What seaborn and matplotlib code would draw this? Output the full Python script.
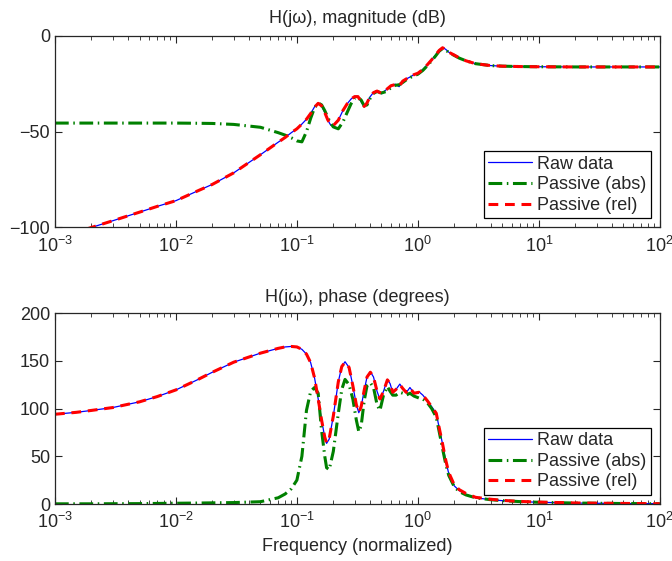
import seaborn as sns
import matplotlib.pyplot as plt

sns.set_style("ticks")
plt.rcParams['font.family'] = ['Liberation Sans', 'DejaVu Sans']
plt.rcParams['mathtext.fontset'] = 'custom'
plt.rcParams['mathtext.rm'] = 'Liberation Sans'
plt.rcParams['mathtext.it'] = 'Liberation Sans:italic'
plt.rcParams['xtick.direction'] = 'in'
plt.rcParams['ytick.direction'] = 'in'

# magnitude (dB)
freq_mag = [0.001, 0.0015, 0.002, 0.003, 0.005, 0.007, 0.01, 0.015, 0.02, 0.03,
            0.05, 0.07, 0.08, 0.09, 0.1, 0.11, 0.12, 0.13, 0.14, 0.15,
            0.16, 0.17, 0.18, 0.19, 0.2, 0.22, 0.24, 0.26, 0.28, 0.3,
            0.32, 0.34, 0.36, 0.38, 0.4, 0.43, 0.46, 0.5, 0.55, 0.6,
            0.65, 0.7, 0.75, 0.8, 0.86, 0.93, 1.0, 1.1, 1.2, 1.3,
            1.4, 1.5, 1.6, 1.7, 1.8, 2.0, 2.2, 2.5, 3.0, 4.0,
            5.0, 7.0, 10.0, 20.0, 50.0, 100.0]
mag_raw = [-106, -102.5, -100, -96.5, -92, -89, -86, -81, -77.5, -71.5,
           -62, -55.5, -53, -50.5, -48.5, -46, -43.5, -40.5, -37, -35,
           -36.5, -40, -44, -46.5, -47, -44, -39, -35.5, -33, -31.5,
           -31.5, -34.5, -37, -35, -32, -29.5, -28.6, -30.2, -28, -26,
           -25.2, -26.5, -23.5, -22.5, -21.5, -20.2, -19.5, -17.5, -15, -12.5,
           -10, -7.5, -6, -7, -8.5, -10, -11.5, -13, -14.5, -15.5,
           -15.8, -16, -16.1, -16.2, -16.2, -16.2]
mag_abs = [-45.5, -45.5, -45.5, -45.5, -45.5, -45.5, -45.5, -45.6, -45.7, -46.2,
           -47.7, -50.5, -51.8, -53.2, -54.8, -55.3, -50, -43, -37.5, -35,
           -36, -39, -42.5, -45.5, -47.5, -48.5, -45, -40, -35.5, -32.5,
           -32, -33.5, -36.5, -36, -33, -30, -29, -29.8, -29, -27,
           -25.8, -25.5, -24.3, -23, -21.8, -20.8, -20, -18, -15.5, -13,
           -10.5, -8, -6.6, -7.3, -8.7, -10.2, -11.6, -13, -14.5, -15.5,
           -15.8, -16, -16.1, -16.2, -16.2, -16.2]
mag_rel = [-106, -102.5, -100, -96.5, -92, -89, -86, -81, -77.5, -71.5,
           -62, -55.5, -53, -50.5, -48.5, -46, -43.5, -40.5, -37.2, -35.2,
           -36.5, -40, -43.8, -46.3, -46.8, -44, -39, -35.5, -33, -31.7,
           -31.7, -34.3, -36.8, -35, -32, -29.6, -28.8, -30, -28, -26,
           -25.4, -26.3, -23.6, -22.5, -21.5, -20.2, -19.5, -17.5, -15, -12.5,
           -10, -7.6, -6.2, -7, -8.5, -10, -11.5, -13, -14.5, -15.5,
           -15.8, -16, -16.1, -16.2, -16.2, -16.2]

# phase (degrees)
freq_ph = [0.001, 0.0015, 0.002, 0.003, 0.005, 0.007, 0.01, 0.015, 0.02, 0.03,
           0.05, 0.07, 0.08, 0.09, 0.1, 0.11, 0.12, 0.13, 0.14, 0.15,
           0.16, 0.17, 0.176, 0.185, 0.2, 0.22, 0.235, 0.25, 0.27, 0.29,
           0.31, 0.325, 0.34, 0.36, 0.38, 0.405, 0.43, 0.46, 0.486, 0.52,
           0.56, 0.59, 0.62, 0.66, 0.71, 0.75, 0.8, 0.86, 0.93, 1.02,
           1.1, 1.2, 1.3, 1.42, 1.5, 1.6, 1.7, 1.8, 2.0, 2.2,
           2.5, 3.0, 4.0, 5.0, 7.0, 10.0, 20.0, 50.0, 100.0]
ph_raw = [94, 96, 98, 101, 107, 112.5, 119.5, 130, 138, 148.5,
          158, 163, 164.5, 165, 164.5, 162, 157, 148, 132, 110,
          88, 70, 63.5, 68, 92, 128, 144, 149, 143, 124,
          104, 95.6, 102, 119, 133, 138.5, 133, 118, 109.6, 118,
          130.5, 126, 116.5, 120, 125.6, 121, 116.5, 122, 116, 117.6,
          114, 108, 102, 95, 80, 63, 45, 32, 19, 14,
          10, 6.5, 4.5, 3.5, 2.5, 1.8, 1, 0.5, 0.3]
ph_abs = [0.2, 0.2, 0.2, 0.3, 0.4, 0.6, 0.8, 1.0, 1.2, 1.5,
          2.4, 6.5, 10.5, 16, 25, 50, 98, 118, 122, 116,
          77, 50, 38, 36, 55, 95, 120, 130.5, 125, 110,
          88, 75.7, 82, 108, 124, 127, 122, 104, 98, 114,
          123, 118, 114, 114, 117, 116, 114, 116, 113, 111,
          110, 106, 100, 91, 76, 58, 42, 30, 18, 13,
          9.5, 6.5, 4.5, 3.5, 2.5, 1.8, 1, 0.5, 0.3]
ph_rel = [94, 96, 98, 101, 107, 112.5, 119.5, 130, 138, 148.5,
          158, 163, 164.5, 165, 164.5, 162, 157, 148, 132, 110,
          88, 70, 64, 68.5, 92, 128, 144, 148.5, 143, 124,
          104, 96, 102, 119, 133, 138, 133, 118, 110, 118,
          130, 126, 117, 120, 125, 121, 117, 121.5, 116, 117,
          114, 108, 102, 95, 80, 63, 46, 33, 20, 15,
          11, 7, 5, 3.8, 2.7, 2, 1.1, 0.6, 0.3]

labels = ['Raw data', 'Passive (abs)', 'Passive (rel)']
fs = 13

fig = plt.figure(figsize=(6.72, 5.61), dpi=100)
ax1 = fig.add_axes([0.0818, 0.5945, 0.9, 0.3415])
ax2 = fig.add_axes([0.0818, 0.1016, 0.9, 0.3404])


def draw(ax, x, raw, pabs, prel):
    sns.lineplot(x=x, y=raw, ax=ax, color='#0000ff', lw=0.9, label=labels[0])
    sns.lineplot(x=x, y=pabs, ax=ax, color='#008000', lw=2.2,
                 linestyle=(0, (4.5, 1.5, 0.5, 1.5)), label=labels[1])
    sns.lineplot(x=x, y=prel, ax=ax, color='#ff0000', lw=2.2,
                 linestyle=(0, (3.2, 2.2)), label=labels[2])
    ax.set_xscale('log')
    ax.set_xlim(1e-3, 1e2)
    ax.tick_params(which='both', top=True, right=True, labelsize=fs)
    ax.tick_params(axis='x', which='both', pad=6)
    ax.tick_params(which='major', length=5, width=0.8)
    ax.tick_params(which='minor', length=3, width=0.6)
    for s in ax.spines.values():
        s.set_linewidth(0.9)
    leg = ax.legend(loc='lower right', fontsize=fs, frameon=True, fancybox=False,
                    edgecolor='black', framealpha=1, handlelength=2.4,
                    handletextpad=0.3, labelspacing=0.2, borderpad=0.25,
                    borderaxespad=0.5)
    leg.get_frame().set_linewidth(0.9)


draw(ax1, freq_mag, mag_raw, mag_abs, mag_rel)
ax1.set_ylim(-100, 0)
ax1.set_yticks([-100, -50, 0])
ax1.set_title('H(jω), magnitude (dB)', fontsize=fs, pad=9)

draw(ax2, freq_ph, ph_raw, ph_abs, ph_rel)
ax2.set_ylim(0, 200)
ax2.set_yticks([0, 50, 100, 150, 200])
ax2.set_title('H(jω), phase (degrees)', fontsize=fs, pad=8)
ax2.set_xlabel('Frequency (normalized)', fontsize=fs, labelpad=4)

fig.savefig('out.png', dpi=100)
